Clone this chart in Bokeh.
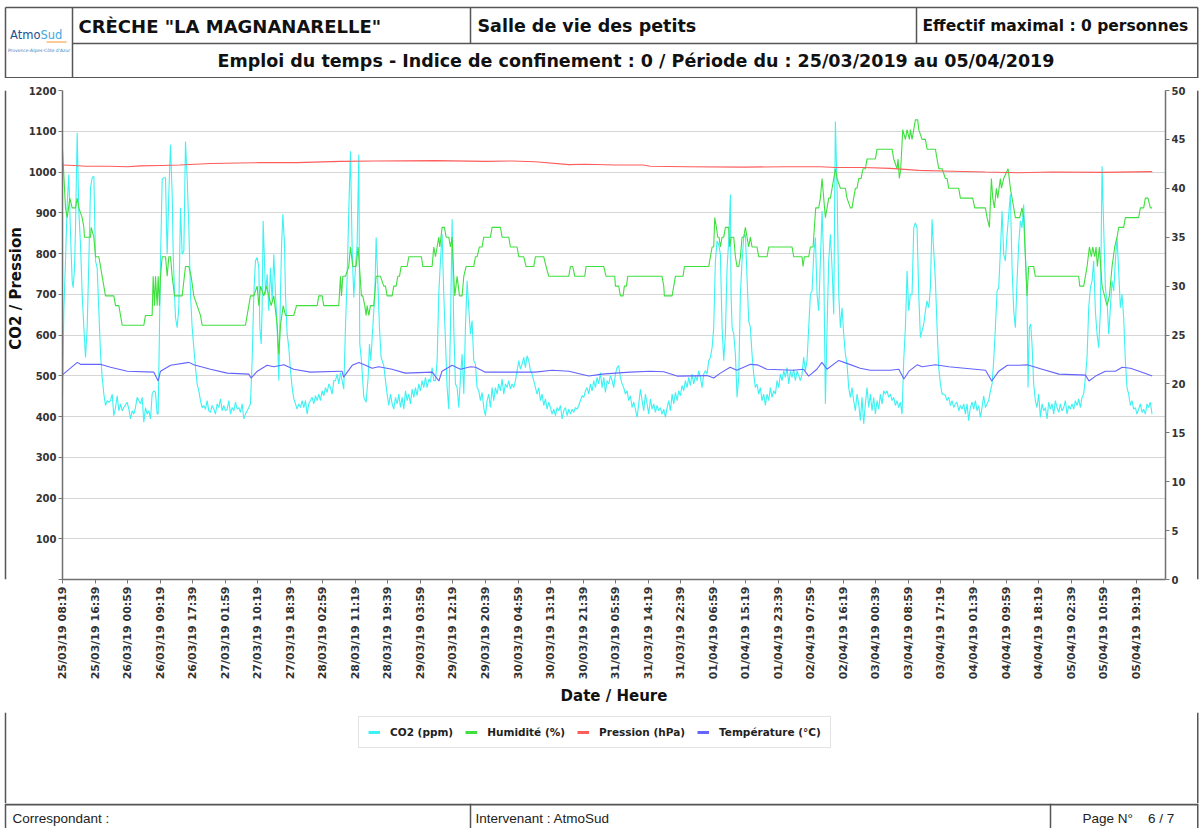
from math import pi
from bokeh.plotting import figure
from bokeh.models import Range1d, LinearAxis, FixedTicker, Legend, LegendItem
from bokeh.layouts import column, row
from bokeh.embed import file_html
from bokeh.resources import INLINE
from bokeh.core.properties import value

# ---------------- data (hours since 25/03/19 08:19, value) ----------------
tick_labels = ["25/03/19 08:19", "25/03/19 16:39", "26/03/19 00:59", "26/03/19 09:19", "26/03/19 17:39",
               "27/03/19 01:59", "27/03/19 10:19", "27/03/19 18:39", "28/03/19 02:59", "28/03/19 11:19",
               "28/03/19 19:39", "29/03/19 03:59", "29/03/19 12:19", "29/03/19 20:39", "30/03/19 04:59",
               "30/03/19 13:19", "30/03/19 21:39", "31/03/19 05:59", "31/03/19 14:19", "31/03/19 22:39",
               "01/04/19 06:59", "01/04/19 15:19", "01/04/19 23:39", "02/04/19 07:59", "02/04/19 16:19",
               "03/04/19 00:39", "03/04/19 08:59", "03/04/19 17:19", "04/04/19 01:39", "04/04/19 09:59",
               "04/04/19 18:19", "05/04/19 02:39", "05/04/19 10:59", "05/04/19 19:19"]
tick_step_minutes = 500

co2_readings = [
    (0.0, 447), (0.34, 659), (0.77, 782), (1.20, 920), (1.62, 994), (2.05, 847), (2.48, 733), (2.73, 716),
    (3.08, 765), (3.33, 863), (3.76, 1096), (4.18, 904), (4.61, 822), (5.04, 700), (5.47, 618), (5.89, 545),
    (6.32, 618), (6.75, 782), (7.17, 961), (7.60, 986), (8.03, 990), (8.46, 782), (8.88, 765), (9.31, 659),
    (9.74, 553), (10.16, 496), (10.59, 455), (11.02, 427), (11.44, 439), (11.87, 435), (12.30, 439),
    (12.72, 455), (13.15, 402), (13.58, 422), (14.00, 451), (14.43, 414), (14.86, 431), (15.29, 414),
    (15.71, 422), (16.56, 435), (16.99, 418), (17.41, 394), (17.84, 414), (18.27, 406), (18.69, 422),
    (19.12, 447), (19.97, 431), (20.40, 447), (20.83, 386), (21.25, 422), (21.68, 406), (22.11, 414),
    (22.54, 394), (22.96, 455), (23.39, 463), (23.82, 459), (24.24, 406), (24.50, 406), (24.84, 618),
    (25.10, 782), (25.53, 982), (25.95, 986), (26.38, 986), (26.64, 863), (26.81, 798), (27.23, 945),
    (27.66, 1067), (28.09, 945), (28.34, 806), (28.69, 700), (28.94, 643), (29.37, 618), (29.79, 667),
    (30.22, 912), (30.65, 798), (31.08, 806), (31.50, 1075), (31.93, 986), (32.36, 863), (32.78, 700),
    (33.21, 618), (33.63, 569), (34.06, 520), (34.48, 480), (34.91, 463), (35.34, 439), (35.76, 422),
    (36.19, 427), (36.62, 418), (37.04, 439), (37.47, 414), (37.90, 410), (38.32, 427), (38.75, 418),
    (39.18, 406), (39.61, 431), (40.03, 422), (40.46, 443), (40.89, 414), (41.31, 427), (41.74, 414),
    (42.17, 418), (42.60, 439), (43.02, 406), (43.45, 422), (43.88, 414), (44.30, 435), (44.73, 418),
    (45.16, 422), (45.58, 410), (46.01, 431), (46.44, 394), (46.86, 406), (47.29, 414), (47.72, 422),
    (48.14, 431), (48.57, 537), (49.00, 700), (49.42, 782), (49.85, 790), (50.28, 765), (50.54, 618),
    (50.88, 578), (51.13, 667), (51.39, 880), (51.73, 782), (51.99, 700), (52.42, 749), (52.84, 659),
    (53.27, 765), (53.70, 684), (54.12, 798), (54.55, 700), (54.98, 618), (55.40, 488), (55.83, 700),
    (56.09, 814), (56.43, 896), (56.86, 822), (57.11, 700), (57.54, 602), (57.96, 569), (58.39, 512),
    (58.82, 471), (59.24, 443), (59.67, 431), (60.09, 418), (60.52, 431), (60.95, 422), (61.37, 439),
    (61.80, 422), (62.23, 439), (62.65, 406), (63.08, 431), (63.51, 439), (63.93, 447), (64.36, 431),
    (64.79, 451), (65.22, 439), (65.64, 455), (66.07, 439), (66.50, 463), (66.92, 451), (67.35, 471),
    (67.78, 459), (68.21, 480), (68.63, 471), (69.06, 455), (69.49, 488),
    (69.91, 488), (70.34, 504), (70.76, 480), (71.19, 508), (71.62, 488), (72.04, 467), (72.47, 618),
    (72.90, 741), (73.32, 904), (73.75, 1051), (74.18, 814), (74.60, 692), (75.03, 765), (75.46, 822),
    (75.89, 1043), (76.14, 578), (76.57, 537), (77.17, 447), (77.76, 435), (78.28, 496), (78.62, 578),
    (78.96, 537), (79.47, 618), (79.99, 700), (80.33, 839), (80.75, 733), (81.18, 618), (81.61, 545),
    (82.29, 525), (82.72, 488), (83.14, 455), (83.57, 427), (84.00, 455), (84.43, 431), (84.85, 418),
    (85.28, 447), (85.71, 431), (86.13, 455), (86.56, 422), (86.98, 447), (87.41, 418), (87.84, 463),
    (88.26, 439), (88.69, 455), (89.11, 431), (89.54, 467), (89.97, 447), (90.39, 471), (90.82, 451),
    (91.25, 480), (91.67, 463), (92.10, 488), (92.53, 471), (92.96, 496), (93.38, 471), (93.81, 492),
    (94.24, 484), (94.66, 520), (95.09, 488), (95.52, 488), (95.95, 537), (96.37, 700), (96.80, 782),
    (97.23, 847), (97.65, 700), (98.08, 586), (98.51, 471), (98.93, 418), (99.36, 618), (99.79, 884),
    (100.21, 618), (100.64, 480), (101.07, 471), (101.50, 422), (101.92, 496), (102.35, 553), (102.78, 455),
    (103.20, 618), (103.63, 733), (104.05, 667), (104.48, 602), (104.90, 635), (105.33, 537), (105.76, 529),
    (106.18, 471), (106.61, 463), (107.04, 439), (107.46, 459), (107.89, 422), (108.32, 402), (108.74, 439),
    (109.17, 455), (109.60, 422), (110.02, 471), (110.45, 439), (110.88, 471), (111.30, 455), (111.73, 480),
    (112.16, 463), (112.59, 492), (113.01, 455), (113.44, 480), (113.87, 471), (114.30, 488), (114.72, 467),
    (115.15, 480), (115.58, 471), (116.00, 488), (116.43, 512), (116.86, 537), (117.28, 516), (117.71, 529),
    (118.14, 545), (118.56, 520), (118.99, 549), (119.42, 537), (119.84, 512), (120.27, 504), (120.70, 488),
    (121.13, 471), (121.55, 455), (121.98, 471), (122.41, 439), (122.83, 455), (123.26, 427), (123.69, 443),
    (124.11, 418), (124.54, 435), (124.97, 422), (125.39, 406), (125.82, 418), (126.25, 402), (126.67, 422),
    (127.10, 414), (127.53, 427), (127.96, 394), (128.38, 414), (128.81, 422), (129.24, 402), (129.66, 418),
    (130.09, 406), (130.52, 418), (130.94, 410), (131.37, 422), (131.80, 418), (132.22, 427), (132.65, 439),
    (133.08, 451), (133.50, 447), (133.93, 463), (134.36, 471), (134.78, 455), (135.21, 480), (135.64, 463),
    (136.06, 488), (136.49, 471), (136.92, 496), (137.34, 480), (137.77, 508), (138.20, 471), (138.63, 496),
    (139.05, 459), (139.48, 488), (139.91, 480), (140.33, 500), (140.76, 488), (141.19, 471),
    (141.61, 504), (142.04, 520), (142.46, 525), (142.89, 496), (143.32, 480), (143.74, 471), (144.17, 455),
    (144.60, 463), (145.02, 439), (145.45, 451), (145.88, 422), (146.31, 435), (146.73, 418), (147.16, 398),
    (147.59, 431), (148.01, 467), (148.44, 439), (148.87, 414), (149.30, 455), (149.72, 431), (150.15, 406),
    (150.58, 443), (151.00, 418), (151.43, 431), (151.86, 410), (152.28, 427), (152.71, 414), (153.14, 422),
    (153.56, 406), (153.99, 418), (154.42, 398), (154.85, 422), (155.27, 439), (155.70, 414), (156.13, 455),
    (156.55, 431), (156.98, 459), (157.40, 439), (157.83, 463), (158.25, 451), (158.68, 476), (159.11, 463),
    (159.53, 488), (159.96, 471), (160.39, 496), (160.81, 476), (161.24, 504), (161.67, 480), (162.09, 500),
    (162.52, 488), (162.95, 512), (163.38, 496), (163.80, 471), (164.23, 504), (164.66, 512), (165.08, 504),
    (165.51, 537), (165.94, 545), (166.37, 569), (166.79, 618), (167.22, 782), (167.65, 831), (168.07, 822),
    (168.50, 798), (168.93, 618), (169.35, 537), (169.78, 602), (170.21, 765), (170.63, 831), (171.06, 945),
    (171.23, 700), (171.49, 618), (171.92, 602), (172.34, 553), (172.77, 447), (173.20, 496), (173.62, 700),
    (174.05, 782), (174.47, 839), (174.90, 847), (175.32, 741), (175.75, 635), (176.18, 618), (176.60, 553),
    (177.03, 504), (177.46, 471), (177.88, 480), (178.31, 455), (178.74, 471), (179.16, 439), (179.59, 455),
    (180.02, 427), (180.45, 455), (180.87, 439), (181.30, 471), (181.73, 447), (182.15, 463), (182.58, 455),
    (183.01, 488), (183.44, 471), (183.86, 504), (184.29, 488), (184.72, 512), (185.14, 496), (185.57, 520),
    (186.00, 480), (186.42, 512), (186.85, 496), (187.28, 516), (187.70, 488), (188.13, 512), (188.56, 500),
    (188.99, 488), (189.41, 504), (189.84, 545), (190.27, 512), (190.69, 537), (191.12, 618), (191.55, 700),
    (191.98, 708), (192.40, 798), (192.83, 839), (193.26, 700), (193.68, 659), (194.11, 782), (194.54, 904),
    (194.96, 782), (195.39, 431), (195.82, 618), (196.24, 782), (196.67, 847), (197.10, 765), (197.53, 651),
    (197.95, 1124), (198.38, 961), (198.81, 700), (199.23, 618), (199.66, 667), (200.08, 602), (200.51, 553),
    (200.93, 529), (201.36, 471), (201.79, 447), (202.21, 471), (202.64, 439), (203.07, 414), (203.49, 455),
    (203.92, 431), (204.35, 390), (204.77, 447), (205.20, 382), (205.63, 431), (206.06, 471), (206.48, 422),
    (206.91, 455), (207.34, 414), (207.76, 447), (208.19, 406), (208.62, 439), (209.05, 418), (209.47, 455),
    (209.90, 431), (210.33, 463),
    (210.76, 455), (211.19, 463), (211.61, 447), (212.04, 455), (212.47, 439), (212.89, 447), (213.32, 427),
    (213.75, 439), (214.17, 422), (214.60, 435), (215.03, 406), (215.45, 537), (215.88, 618), (216.31, 757),
    (216.74, 659), (217.16, 700), (217.59, 700), (218.02, 863), (218.44, 875), (218.87, 863), (219.30, 700),
    (219.73, 594), (220.15, 610), (220.58, 627), (221.01, 659), (221.43, 684), (221.86, 667), (222.29, 716),
    (222.71, 884), (223.14, 806), (223.57, 733), (223.99, 618), (224.42, 520), (224.85, 480), (225.28, 455),
    (225.70, 455), (226.13, 451), (226.56, 439), (226.98, 447), (227.41, 427), (227.83, 439), (228.26, 422),
    (228.68, 431), (229.11, 435), (229.54, 414), (229.96, 427), (230.39, 418), (230.82, 431), (231.24, 406),
    (231.67, 431), (232.10, 390), (232.52, 422), (232.95, 435), (233.38, 418), (233.81, 439), (234.23, 414),
    (234.66, 427), (235.09, 398), (235.51, 422), (235.94, 451), (236.37, 422), (236.80, 431), (237.22, 439),
    (237.65, 463), (238.08, 480), (238.50, 537), (238.93, 618), (239.36, 708), (239.78, 716), (240.21, 806),
    (240.64, 904), (241.06, 798), (241.49, 782), (241.92, 847), (242.35, 896), (242.77, 945), (243.20, 765),
    (243.63, 659), (244.05, 618), (244.48, 733), (244.90, 822), (245.33, 880), (245.75, 863), (246.18, 920),
    (246.61, 798), (247.03, 700), (247.29, 471), (247.63, 618), (247.97, 627), (248.31, 578), (248.74, 480),
    (249.16, 439), (249.59, 422), (250.02, 455), (250.45, 398), (250.88, 431), (251.30, 414), (251.73, 422),
    (252.16, 394), (252.58, 435), (253.01, 418), (253.44, 431), (253.87, 406), (254.29, 439), (254.72, 422),
    (255.15, 410), (255.57, 431), (256.00, 414), (256.43, 422), (256.85, 439), (257.28, 406), (257.71, 427),
    (258.13, 418), (258.56, 431), (258.99, 418), (259.42, 439), (259.84, 427), (260.27, 443), (260.70, 422),
    (261.12, 447), (261.55, 455), (261.98, 496), (262.41, 545), (262.83, 667), (263.26, 716), (263.69, 733),
    (264.11, 782), (264.54, 659), (264.97, 602), (265.39, 569), (265.82, 659), (266.25, 1014), (266.67, 863),
    (267.10, 716), (267.53, 684), (267.96, 602), (268.38, 667), (268.81, 733), (269.24, 708), (269.66, 782),
    (270.09, 839), (270.51, 757), (270.94, 667), (271.36, 700), (271.79, 643), (272.22, 537), (272.64, 471),
    (273.07, 455), (273.50, 427), (273.92, 439), (274.35, 418), (274.78, 422), (275.20, 406), (275.63, 418),
    (276.06, 431), (276.49, 410), (276.91, 418), (277.34, 406), (277.77, 431), (278.19, 422), (278.62, 435),
    (279.05, 406),
]

humidity_readings = [
    (0.0, 44), (0.77, 38), (1.20, 37), (1.88, 39), (2.48, 38), (3.33, 38), (3.76, 39), (4.18, 38), (5.04, 37),
    (5.47, 36), (5.64, 35), (7.17, 35), (7.34, 36), (8.03, 35), (8.46, 33), (9.31, 33), (10.16, 31), (11.01, 29),
    (13.15, 29), (13.58, 28), (14.43, 28), (14.86, 27), (15.28, 26), (20.83, 26), (21.25, 27), (22.96, 27),
    (23.22, 31), (23.56, 28), (23.82, 31), (24.24, 28), (24.50, 31), (24.84, 28), (25.10, 31), (25.53, 33),
    (26.38, 33), (26.81, 31), (27.23, 33), (27.66, 33), (28.09, 31), (28.69, 29), (30.65, 29), (31.50, 32),
    (32.36, 32), (32.95, 31), (33.63, 29), (34.48, 28), (35.34, 27), (35.76, 26), (46.86, 26), (47.29, 27),
    (47.72, 28), (48.14, 29), (49.00, 29), (49.85, 30), (50.28, 28), (50.71, 30), (51.56, 29), (52.24, 30),
    (52.84, 29), (53.44, 28), (54.12, 29), (54.98, 26), (55.40, 23), (55.83, 26), (56.52, 28), (57.11, 27),
    (59.24, 27), (59.93, 28), (65.22, 28), (65.64, 29), (66.50, 29), (66.92, 28), (70.76, 28), (71.19, 31),
    (71.45, 29), (71.79, 31), (72.47, 31), (73.32, 32), (73.75, 34), (74.35, 32), (75.20, 32), (75.71, 34),
    (76.06, 32), (76.57, 29), (76.91, 29), (77.42, 28), (77.76, 27), (78.02, 28), (78.45, 27), (78.87, 28),
    (79.73, 28), (80.33, 31), (81.43, 31), (82.29, 30), (82.72, 30), (83.14, 29), (84.43, 29), (84.85, 30),
    (85.45, 30), (85.88, 31), (86.30, 31), (86.73, 32), (88.26, 32), (88.69, 33), (91.93, 33), (92.27, 32),
    (94.66, 32), (95.09, 34), (95.52, 33), (95.95, 34), (96.37, 35), (96.63, 34), (97.23, 36), (97.82, 36),
    (98.25, 35), (98.93, 35), (99.36, 34), (99.79, 35), (100.21, 31), (100.47, 29), (101.07, 31), (101.67, 29),
    (102.35, 29), (102.78, 31), (103.37, 32), (105.33, 32), (105.76, 33), (106.18, 33), (106.78, 34),
    (107.46, 34), (107.89, 35), (109.60, 35), (110.02, 36), (112.16, 36), (112.59, 35), (114.30, 35),
    (114.72, 34), (116.43, 34), (116.86, 33), (118.14, 33), (118.73, 32), (120.70, 32), (121.13, 33),
    (123.26, 33), (123.86, 32), (124.54, 31), (129.66, 31), (130.09, 32), (130.69, 32), (131.20, 31),
    (133.76, 31), (134.10, 32), (138.63, 32), (139.22, 31), (141.44, 31), (141.61, 30), (142.46, 30),
    (142.89, 29), (143.57, 29), (143.91, 30), (144.43, 30), (144.77, 31), (153.56, 31), (153.99, 30),
    (154.16, 29), (156.13, 29), (156.55, 30), (156.98, 31), (158.94, 31), (159.28, 32), (165.51, 32),
    (165.94, 33), (166.37, 34), (166.79, 34), (167.05, 37), (167.48, 36), (167.82, 35), (168.16, 35),
    (168.50, 34), (168.93, 35), (169.35, 35), (169.78, 36), (170.63, 36), (170.89, 34), (171.23, 35),
    (171.92, 35), (172.34, 33), (172.77, 32), (173.20, 32), (173.62, 33), (174.05, 35), (174.47, 35),
    (174.90, 36), (175.32, 35), (175.75, 34), (176.18, 35), (176.60, 34), (177.88, 34), (178.31, 33),
    (180.45, 33), (180.87, 34), (186.85, 34), (187.28, 33), (189.41, 33), (189.67, 32), (190.01, 33),
    (191.12, 33), (191.55, 34), (192.23, 34), (192.57, 36), (192.91, 38), (193.68, 38), (194.11, 39),
    (194.54, 41), (194.96, 39), (195.39, 37), (195.82, 38), (196.24, 39), (196.67, 39), (197.10, 40),
    (197.53, 41), (197.95, 42), (198.38, 41), (199.23, 40), (200.51, 40), (200.93, 39), (201.79, 38),
    (202.21, 38), (202.64, 39), (203.07, 40), (203.49, 40), (203.92, 41), (204.52, 41), (205.03, 42),
    (205.63, 42), (206.06, 43), (208.19, 43), (208.62, 44), (212.47, 44), (212.89, 43), (213.75, 42),
    (214.00, 43), (214.34, 41), (214.69, 42), (215.20, 46), (215.88, 45), (216.31, 46), (216.91, 45),
    (217.16, 46), (217.59, 45), (218.02, 46), (218.44, 47), (219.04, 47), (219.30, 46), (220.15, 45),
    (221.01, 45), (221.43, 44), (223.57, 44), (223.99, 43), (224.42, 42), (225.28, 42), (226.13, 41),
    (226.56, 41), (226.98, 40), (229.54, 40), (229.96, 39), (233.12, 39), (233.64, 38), (236.37, 38),
    (236.80, 37), (237.39, 36), (237.91, 41), (238.25, 39), (238.67, 38), (239.19, 40), (239.53, 39),
    (240.21, 41), (240.47, 40), (241.06, 41), (242.18, 42), (242.77, 40), (243.63, 38), (244.05, 37),
    (245.16, 37), (245.75, 38), (246.18, 37), (247.03, 29), (247.46, 32), (248.74, 32), (249.16, 31),
    (260.27, 31), (260.53, 30), (261.55, 30), (261.98, 31), (262.41, 32), (263.01, 34), (263.52, 33),
    (263.86, 34), (264.37, 33), (264.71, 34), (265.05, 32), (265.56, 34), (266.25, 30), (267.53, 28),
    (268.13, 29), (268.81, 32), (269.49, 34), (270.09, 35), (270.51, 36), (271.79, 36), (272.22, 37),
    (275.63, 37), (276.06, 38), (276.91, 38), (277.34, 39), (278.02, 39), (278.62, 38), (279.05, 38),
]

pressure_readings = [
    (0.0, 1017), (3.0, 1016), (6.0, 1014), (12.0, 1014), (16.6, 1013), (20.0, 1015), (25.1, 1016), (30.0, 1017),
    (37.9, 1021), (45.0, 1022), (50.7, 1023), (60.0, 1023), (71.2, 1026), (80.0, 1027), (95.5, 1028),
    (108.3, 1026), (115.0, 1027), (121.1, 1025), (129.7, 1018), (133.9, 1019), (141.6, 1017), (148.8, 1017),
    (150.5, 1014), (160.0, 1013), (174.4, 1012), (185.0, 1013), (194.1, 1013), (198.3, 1011), (205.2, 1011),
    (212.0, 1009), (219.3, 1004), (228.0, 1002), (236.4, 1000), (245.0, 998), (253.5, 1000), (266.3, 999),
    (279.1, 1001),
]

temperature_readings = [
    (0.0, 20.9), (0.2, 21.0), (3.8, 22.2), (4.6, 22.0), (9.7, 22.0), (12.3, 21.7), (16.6, 21.3), (23.4, 21.2),
    (24.5, 20.3), (25.1, 21.3), (27.7, 21.9), (32.4, 22.2), (33.6, 21.95), (37.9, 21.5), (42.2, 21.1),
    (47.7, 21.0), (48.3, 20.6), (49.9, 21.3), (52.4, 21.9), (54.1, 21.75), (56.7, 21.95), (59.2, 21.5),
    (63.5, 21.2), (71.2, 21.3), (71.6, 21.3), (72.0, 20.7), (74.2, 21.9), (75.9, 22.2), (77.6, 21.9),
    (79.3, 21.6), (81.0, 21.75), (84.4, 21.5), (87.8, 21.1), (94.7, 21.2), (96.4, 20.3), (97.2, 21.3),
    (99.8, 21.9), (101.9, 21.5), (104.5, 21.75), (105.8, 21.7), (108.3, 21.2), (121.1, 21.2), (125.4, 21.4),
    (129.7, 21.3), (134.8, 20.8), (138.2, 21.0), (141.6, 21.1), (145.4, 21.2), (150.5, 21.3), (154.0, 21.25),
    (157.4, 20.8), (165.1, 20.85), (166.8, 20.6), (168.5, 21.1), (171.0, 21.7), (172.7, 21.4), (176.2, 22.0),
    (177.9, 21.95), (180.4, 21.5), (187.2, 21.4), (189.8, 21.5), (191.1, 20.8), (193.2, 21.5), (194.5, 22.2),
    (195.8, 21.5), (198.8, 22.4), (200.9, 22.1), (204.3, 21.6), (206.9, 21.4), (212.0, 21.4), (214.2, 21.5),
    (215.5, 20.5), (216.8, 21.3), (218.9, 21.95), (220.2, 21.75), (223.6, 21.95), (227.0, 21.75),
    (236.4, 21.4), (238.0, 20.3), (239.8, 21.3), (242.0, 21.9), (245.0, 21.9), (247.1, 21.95), (250.9, 21.5),
    (255.2, 21.0), (262.0, 20.9), (262.9, 20.3), (264.6, 20.8), (267.1, 21.3), (269.7, 21.3), (271.4, 21.7),
    (273.5, 21.6), (276.5, 21.2), (279.1, 20.8),
]

series_names = ["CO2 (ppm)", "Humidité (%)", "Pression (hPa)", "Température (°C)"]
left_axis_ticks = list(range(0, 1201, 100))
right_axis_ticks = list(range(0, 51, 5))

# ---------------- style ----------------
FONT = "DejaVu Sans"
FRAME = "#555555"
CYAN, GREEN, RED, BLUE = "#3cf2f2", "#3ee03e", "#ff5c5c", "#6464ff"
COLORS = [CYAN, GREEN, RED, BLUE]
PAGE_W = 1202
H_HEAD, H_CHART, H_LEG, H_FOOT = 78, 634, 91, 25
X_LEFT, X_RIGHT = 5, 1197.25          # page frame lines
W_LABEL, W_RFRAME = 24, 6
W_CHART = PAGE_W - W_LABEL - W_RFRAME
NBSP = "\u00a0"


def minutes(readings):
    return [h * 60 for h, _ in readings]


def values(readings):
    return [v for _, v in readings]


def panel(width, height):
    f = figure(width=width, height=height, x_range=Range1d(0, width), y_range=Range1d(height, 0),
               x_axis_type=None, y_axis_type=None, min_border=0, toolbar_location=None,
               output_backend="svg")
    f.outline_line_color = None
    f.background_fill_color = "white"
    f.border_fill_color = "white"
    return f


# ---------------- header ----------------
head = panel(PAGE_W, H_HEAD)
head.segment(x0=[X_LEFT, X_LEFT, X_LEFT, X_RIGHT, 72, 72, 470, 916],
             y0=[7, 77.25, 7, 7, 7, 43, 7, 7],
             x1=[X_RIGHT, X_RIGHT, X_LEFT, X_RIGHT, 72, X_RIGHT, 470, 916],
             y1=[7, 77.25, H_HEAD, H_HEAD, H_HEAD, 43, 43, 43],
             line_color=FRAME, line_width=1.5)
head.text(x=[78], y=[25.5], text=['CRÈCHE "LA MAGNANARELLE"'],
          text_font=value(FONT), text_font_style="bold", text_font_size="18px",
          text_baseline="middle", text_color="#111111")
head.text(x=[477], y=[25.5], text=["Salle de vie des petits"],
          text_font=value(FONT), text_font_style="bold", text_font_size="17.5px",
          text_baseline="middle", text_color="#111111")
head.text(x=[922], y=[25.5], text=["Effectif maximal :  0 personnes"],
          text_font=value(FONT), text_font_style="bold", text_font_size="15.5px",
          text_baseline="middle", text_color="#111111")
head.text(x=[638.5], y=[60.5],
          text=["Emploi du temps - Indice de confinement : 0 / Période du  : 25/03/2019 au 05/04/2019"],
          text_font=value(FONT), text_font_style="bold", text_font_size="17.5px",
          text_baseline="middle", text_align="center", text_color="#111111")
head.text(x=[40], y=[34], text=["Atmo"], text_font=value(FONT), text_font_size="11.5px",
          text_baseline="middle", text_align="right", text_color="#1b4f93")
head.text(x=[40], y=[34], text=["Sud"], text_font=value(FONT), text_font_size="11.5px",
          text_baseline="middle", text_align="left", text_color="#3fa9e0")
head.segment(x0=[46], y0=[41.5], x1=[66], y1=[41.5], line_color="#f29a2e", line_width=1)
head.text(x=[38.5], y=[50], text=["Provence-Alpes-Côte d'Azur"], text_font=value(FONT),
          text_font_size="4.5px", text_baseline="middle", text_align="center", text_color="#3a7fc0")

# ---------------- left strip: frame line + y axis title ----------------
label_strip = panel(W_LABEL, H_CHART)
label_strip.segment(x0=[X_LEFT], y0=[0], x1=[X_LEFT], y1=[H_CHART], line_color=FRAME, line_width=1.5)
label_strip.text(x=[15], y=[256.5], text=["CO2 / Pression"], angle=pi / 2,
                 text_font=value(FONT), text_font_style="bold", text_font_size="15px",
                 text_baseline="middle", text_align="center", text_color="#111111")

# ---------------- chart ----------------
p = figure(width=W_CHART, height=H_CHART, x_range=Range1d(0, 16950), y_range=Range1d(0, 1200),
           min_border_left=62 - W_LABEL, min_border_right=W_LABEL + W_CHART - 1165,
           min_border_top=12, min_border_bottom=H_CHART - 12 - 489,
           toolbar_location=None, output_backend="svg")
p.outline_line_color = None
p.background_fill_color = "white"
p.border_fill_color = "white"
p.extra_y_ranges = {"right": Range1d(0, 50)}
right_ax = LinearAxis(y_range_name="right")
p.add_layout(right_ax, "right")
left_ax = p.left[0]
bottom_ax = p.below[0]

for ax in (left_ax, bottom_ax, right_ax):
    ax.axis_line_color = "#707070"
    ax.axis_line_width = 1.5
    ax.major_tick_line_color = "#777777"
    ax.major_tick_out = 4
    ax.major_tick_in = 0
    ax.minor_tick_line_color = None
    ax.major_label_text_font = FONT
    ax.major_label_text_font_style = "bold"
    ax.major_label_text_color = "#333333"
    ax.major_label_standoff = 2
    ax.axis_label_text_font = FONT
    ax.axis_label_text_font_style = "bold"
    ax.axis_label_text_font_size = "15px"
    ax.axis_label_text_color = "#111111"

left_ax.ticker = FixedTicker(ticks=left_axis_ticks)
left_ax.major_label_overrides = {0: ""}
left_ax.major_label_text_font_size = "10px"

right_ax.ticker = FixedTicker(ticks=right_axis_ticks)
right_ax.major_label_text_font_size = "10px"

tick_pos = [tick_step_minutes * k for k in range(len(tick_labels))]
bottom_ax.ticker = FixedTicker(ticks=tick_pos)
bottom_ax.major_label_overrides = {t: lab for t, lab in zip(tick_pos, tick_labels)}
bottom_ax.major_label_orientation = pi / 2
bottom_ax.major_label_text_font_size = "11px"
bottom_ax.major_label_standoff = 3
bottom_ax.axis_label = "Date / Heure"
bottom_ax.axis_label_standoff = 5

p.xgrid.visible = False
p.ygrid.grid_line_color = "#d6d6d6"
p.ygrid.grid_line_width = 1

p.line(minutes(co2_readings), values(co2_readings), line_color=CYAN, line_width=1.1)
p.line(minutes(humidity_readings), values(humidity_readings), line_color=GREEN, line_width=1.1,
       y_range_name="right")
p.line(minutes(pressure_readings), values(pressure_readings), line_color=RED, line_width=1.1)
p.line(minutes(temperature_readings), values(temperature_readings), line_color=BLUE, line_width=1.1,
       y_range_name="right")

# ---------------- right strip: frame line ----------------
rframe = panel(W_RFRAME, H_CHART)
rframe.segment(x0=[X_RIGHT - PAGE_W + W_RFRAME], y0=[0], x1=[X_RIGHT - PAGE_W + W_RFRAME], y1=[H_CHART],
               line_color=FRAME, line_width=1.5)

# ---------------- legend strip ----------------
leg = panel(PAGE_W, H_LEG)
leg.segment(x0=[X_LEFT, X_RIGHT], y0=[0, 0], x1=[X_LEFT, X_RIGHT], y1=[H_LEG, H_LEG],
            line_color=FRAME, line_width=1.5)
# legend swatch renderers: one undefined (NaN) point each, so nothing is drawn in the strip itself
swatches = [leg.line([float("nan")], [float("nan")], line_color=c, line_width=3) for c in COLORS]
legend = Legend(items=[LegendItem(label=n, renderers=[s]) for n, s in zip(series_names, swatches)],
                orientation="horizontal", location=(358, H_LEG - 36),
                glyph_width=12, glyph_height=12, label_height=12, label_standoff=10, spacing=12,
                padding=9, margin=0,
                label_text_font=FONT, label_text_font_style="bold", label_text_font_size="10.5px",
                label_text_color="#222222", border_line_color="#c8c8c8", border_line_width=1,
                background_fill_color="white", background_fill_alpha=1.0)
leg.add_layout(legend)

# ---------------- footer ----------------
foot = panel(PAGE_W, H_FOOT)
foot.segment(x0=[X_LEFT, X_LEFT, X_RIGHT, 470, 1050], y0=[1, 0, 0, 0, 0],
             x1=[X_RIGHT, X_LEFT, X_RIGHT, 470, 1050], y1=[1, H_FOOT, H_FOOT, H_FOOT, H_FOOT],
             line_color=FRAME, line_width=[2, 1.5, 1.5, 1.5, 1.5])
foot.text(x=[12, 475, 1082], y=[15, 15, 15],
          text=["Correspondant :", "Intervenant : AtmoSud", "Page N°" + NBSP * 4 + "6 / 7"],
          text_font=value("Liberation Sans"), text_font_size="13.5px", text_baseline="middle",
          text_color="#222222")

layout = column(head, row(label_strip, p, rframe), leg, foot)
open("out.html", "w").write(file_html(layout, INLINE, title="Emploi du temps"))
